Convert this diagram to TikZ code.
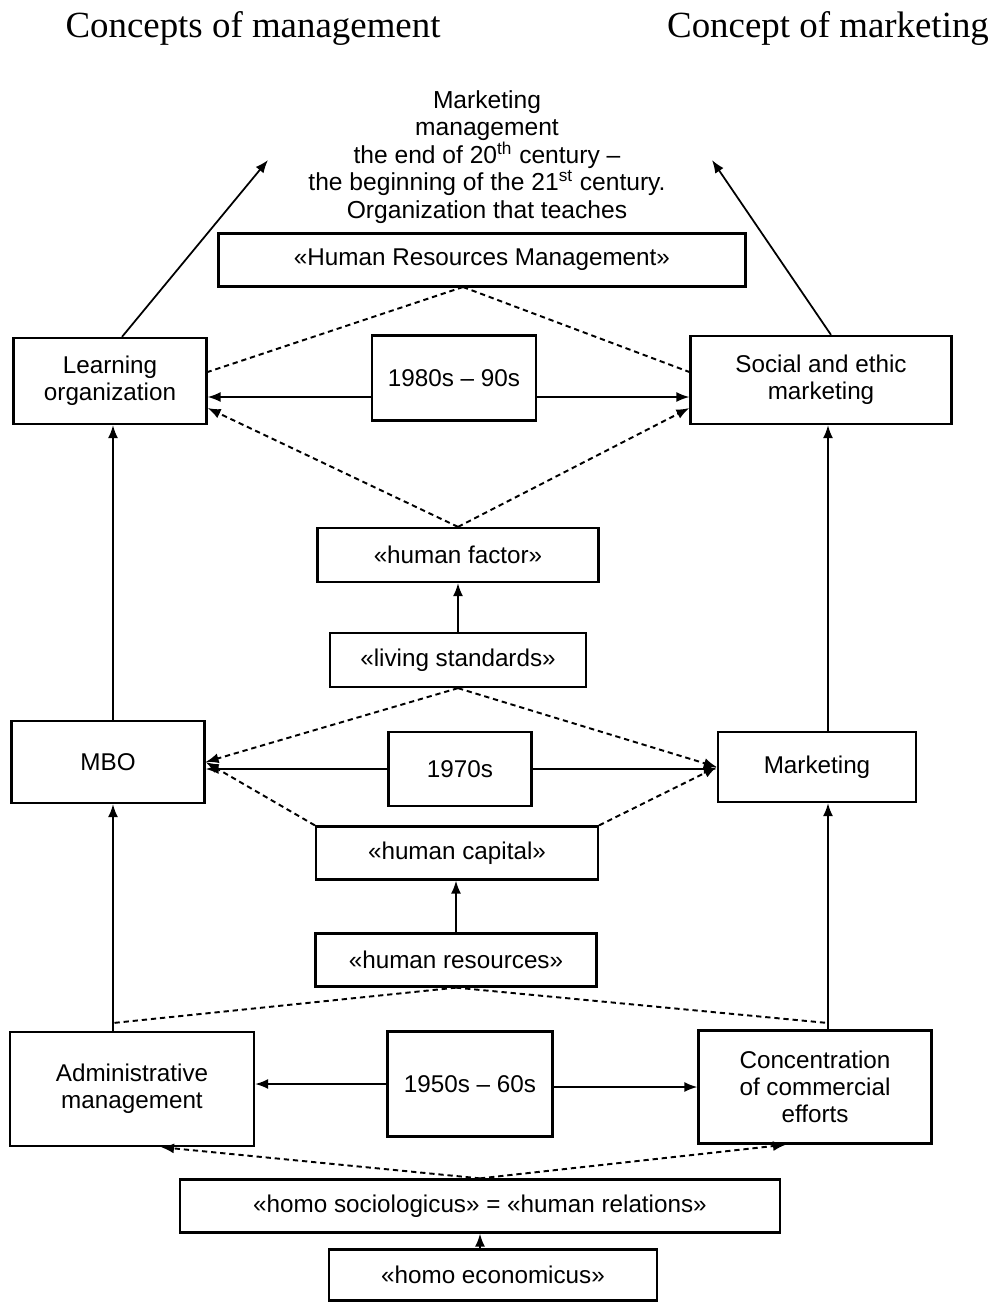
\documentclass[tikz,border=0pt]{standalone}
\usepackage{fontspec}
\setmainfont{Liberation Serif}
\newfontfamily\boxfont{Liberation Sans}
\usetikzlibrary{arrows.meta}

\begin{document}
\begin{tikzpicture}[x=0.02cm, y=-0.02cm,
  box/.style={draw, line width=1.3pt, align=center, inner sep=0pt,
    font=\boxfont\fontsize{13.8}{15.5}\selectfont},
  link/.style={line width=1pt},
  dline/.style={line width=1.1pt, dash pattern=on 3pt off 2.2pt},
  >={Latex[length=2.6mm, width=2mm]}]
  \useasboundingbox (0,0) rectangle (995,1303);

  % Headings
  \node[font=\fontsize{21}{25}\selectfont] (hmgmt) at (253,28) {Concepts of management};
  \node[font=\fontsize{21}{25}\selectfont] (hmark) at (828,28) {Concept of marketing};

  % 1980s - 90s
  \node[align=center, font=\boxfont\fontsize{14}{15.6}\selectfont] (top) at (487,157)
    {Marketing\\management\\the end of 20\textsuperscript{th} century –\\the beginning of the 21\textsuperscript{st} century.\\Organization that teaches};
  \node[box, minimum width=10.54cm, minimum height=1.06cm] (hrm) at (482,260) {«Human Resources Management»};
  \node[box, minimum width=3.86cm, minimum height=1.72cm] (learn) at (110,381) {Learning\\organization};
  \node[box, minimum width=3.28cm, minimum height=1.70cm] (d80) at (454,378) {1980s – 90s};
  \node[box, minimum width=5.22cm, minimum height=1.76cm] (soc) at (821,380) {Social and ethic\\marketing};
  \node[box, minimum width=5.62cm, minimum height=1.08cm] (hfac) at (458,555) {«human factor»};
  \node[box, minimum width=5.12cm, minimum height=1.08cm] (liv) at (458,660) {«living standards»};

  % 1970s
  \node[box, minimum width=3.86cm, minimum height=1.64cm] (mbo) at (108,762) {MBO};
  \node[box, minimum width=2.86cm, minimum height=1.48cm] (d70) at (460,769) {1970s};
  \node[box, minimum width=3.96cm, minimum height=1.40cm] (mkt) at (817,767) {Marketing};
  \node[box, minimum width=5.64cm, minimum height=1.06cm] (hcap) at (457,853) {«human capital»};
  \node[box, minimum width=5.62cm, minimum height=1.06cm] (hres) at (456,960) {«human resources»};

  % 1950s - 60s
  \node[box, minimum width=4.88cm, minimum height=2.28cm] (adm) at (132,1089) {Administrative\\management};
  \node[box, minimum width=3.30cm, minimum height=2.10cm] (d50) at (470,1084) {1950s – 60s};
  \node[box, minimum width=4.66cm, minimum height=2.26cm] (conc) at (815,1087) {Concentration\\of commercial\\efforts};
  \node[box, minimum width=12.0cm, minimum height=1.06cm] (hsoc) at (480,1206) {«homo sociologicus» = «human relations»};
  \node[box, minimum width=6.56cm, minimum height=1.02cm] (heco) at (493,1275) {«homo economicus»};

  \coordinate (tl) at (268,160);
  \coordinate (tr) at (712,160);
  \coordinate (hrmS) at (463,287);
  \coordinate (ml) at (113,1023);
  \coordinate (mr) at (828,1023);

  \draw[link, ->] ([xshift=0.24cm]learn.north) -- (tl);
  \draw[link, ->] ([xshift=0.2cm]soc.north) -- (tr);
  \draw[dline] (hrmS) -- ([yshift=0.18cm]learn.east);
  \draw[dline] (hrmS) -- ([yshift=0.16cm]soc.west);
  \draw[link, ->] ([yshift=-0.38cm]d80.west) -- ([yshift=-0.38cm]d80.west -| learn.east);
  \draw[link, ->] ([yshift=-0.38cm]d80.east) -- ([yshift=-0.38cm]d80.east -| soc.west);
  \draw[dline, ->] (hfac.north) -- ([yshift=-0.54cm]learn.east);
  \draw[dline, ->] (hfac.north) -- ([yshift=-0.56cm]soc.west);
  \draw[link, ->] (liv.north) -- (hfac.south);

  \draw[link, ->] (mbo.north -| ml) -- (learn.south -| ml);
  \draw[link, ->] (mkt.north -| mr) -- (soc.south -| mr);
  \draw[dline, ->] (liv.south) -- (mbo.east);
  \draw[dline, ->] (liv.south) -- (mkt.west);
  \draw[link, ->] (d70.west) -- (d70.west -| mbo.east);
  \draw[link, ->] (d70.east) -- (d70.east -| mkt.west);
  \draw[dline, ->] (hcap.north west) -- (mbo.east);
  \draw[dline, ->] (hcap.north east) -- (mkt.west);
  \draw[link, ->] (hres.north) -- (hres.north |- hcap.south);

  \draw[link, ->] (adm.north -| ml) -- (mbo.south -| ml);
  \draw[link, ->] (conc.north -| mr) -- (mkt.south -| mr);
  \draw[dline] (hres.south) -- (ml);
  \draw[dline] (hres.south) -- (mr);
  \draw[link, ->] (d50.west) -- (d50.west -| adm.east);
  \draw[link, ->] ([yshift=-0.06cm]d50.east) -- ([yshift=-0.06cm]d50.east -| conc.west);
  \draw[dline, ->] (hsoc.north) -- ([xshift=0.58cm]adm.south);
  \draw[dline, ->] (hsoc.north) -- ([xshift=-0.58cm]conc.south);
  \draw[link, ->] (heco.north -| hsoc.south) -- (hsoc.south);
\end{tikzpicture}
\end{document}
